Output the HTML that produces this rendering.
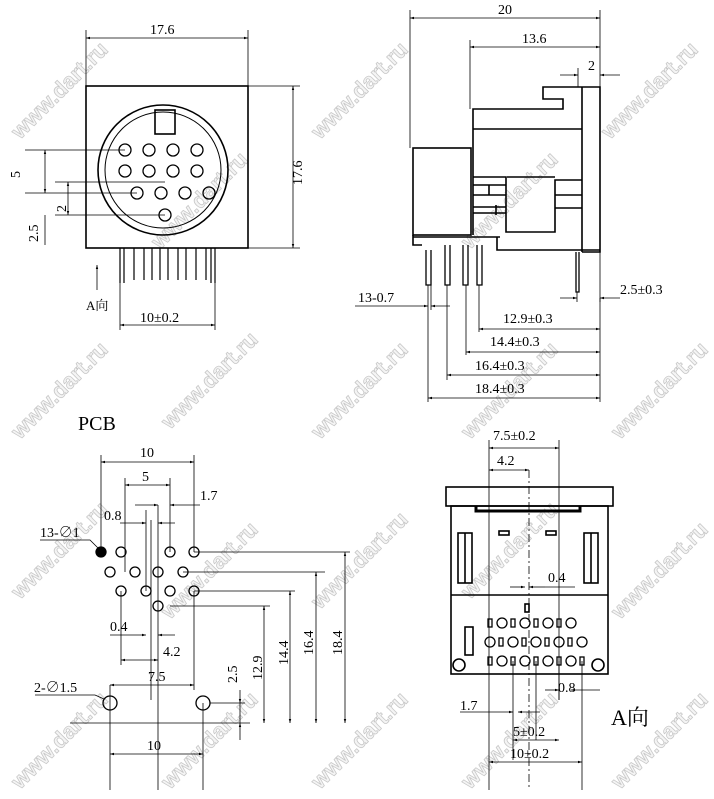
<!DOCTYPE html>
<html><head><meta charset="utf-8"><style>
html,body{margin:0;padding:0;background:#fff;width:714px;height:799px;overflow:hidden}
svg{display:block}
text{font-family:"Liberation Serif","Noto Serif CJK SC",serif;font-size:14px;fill:#000}
.wm{font-family:"Liberation Sans",sans-serif;font-size:22px;font-weight:bold;fill:#f4f4f4;stroke:#c8c8c8;stroke-width:0.8}
</style></head><body>
<svg width="714" height="799" viewBox="0 0 714 799" xmlns="http://www.w3.org/2000/svg">
<defs>
<marker id="a" viewBox="0 0 10 10" refX="10" refY="5" markerWidth="7" markerHeight="5" orient="auto-start-reverse"><path d="M0,2 L10,5 L0,8z" fill="#000"/></marker>
</defs>
<g>
<text class="wm" transform="translate(20,140) rotate(-45)">www.dart.ru</text>
<text class="wm" transform="translate(160,250) rotate(-45)">www.dart.ru</text>
<text class="wm" transform="translate(320,140) rotate(-45)">www.dart.ru</text>
<text class="wm" transform="translate(470,250) rotate(-45)">www.dart.ru</text>
<text class="wm" transform="translate(610,140) rotate(-45)">www.dart.ru</text>
<text class="wm" transform="translate(20,440) rotate(-45)">www.dart.ru</text>
<text class="wm" transform="translate(170,430) rotate(-45)">www.dart.ru</text>
<text class="wm" transform="translate(320,440) rotate(-45)">www.dart.ru</text>
<text class="wm" transform="translate(470,440) rotate(-45)">www.dart.ru</text>
<text class="wm" transform="translate(620,440) rotate(-45)">www.dart.ru</text>
<text class="wm" transform="translate(20,600) rotate(-45)">www.dart.ru</text>
<text class="wm" transform="translate(170,620) rotate(-45)">www.dart.ru</text>
<text class="wm" transform="translate(320,610) rotate(-45)">www.dart.ru</text>
<text class="wm" transform="translate(470,600) rotate(-45)">www.dart.ru</text>
<text class="wm" transform="translate(620,620) rotate(-45)">www.dart.ru</text>
<text class="wm" transform="translate(20,790) rotate(-45)">www.dart.ru</text>
<text class="wm" transform="translate(170,790) rotate(-45)">www.dart.ru</text>
<text class="wm" transform="translate(320,790) rotate(-45)">www.dart.ru</text>
<text class="wm" transform="translate(470,790) rotate(-45)">www.dart.ru</text>
<text class="wm" transform="translate(620,790) rotate(-45)">www.dart.ru</text>
</g>

<g stroke="#000" fill="none" stroke-width="1.6">
<rect x="86" y="86" width="162" height="162"/>
<circle cx="163" cy="170" r="65"/>
<circle cx="163" cy="170" r="58" stroke-width="1"/>
<rect x="155" y="110" width="20" height="24"/>
<g stroke-width="1.3">
<circle cx="125" cy="150" r="6"/><circle cx="149" cy="150" r="6"/><circle cx="173" cy="150" r="6"/><circle cx="197" cy="150" r="6"/>
<circle cx="125" cy="171" r="6"/><circle cx="149" cy="171" r="6"/><circle cx="173" cy="171" r="6"/><circle cx="197" cy="171" r="6"/>
<circle cx="137" cy="193" r="6"/><circle cx="161" cy="193" r="6"/><circle cx="185" cy="193" r="6"/><circle cx="209" cy="193" r="6"/>
<circle cx="165" cy="215" r="6"/>
</g>
<g stroke-width="1.2">
<path d="M120,248v35M124,248v35M134,248v32M144,248v32M152,248v32M160,248v32M168,248v32M178,248v32M186,248v32M196,248v32M206,248v32M211,248v35M215,248v35"/>
</g>
</g>
<g stroke="#000" stroke-width="0.8" fill="none">
<path d="M86,86V30M248,86V30"/>
<line x1="86" y1="38" x2="248" y2="38" marker-start="url(#a)" marker-end="url(#a)"/>
<path d="M248,86H300M248,248H300"/>
<line x1="293" y1="86" x2="293" y2="248" marker-start="url(#a)" marker-end="url(#a)"/>
<path d="M25,150H125M25,193H137M55,182H165M55,215H165"/>
<line x1="45" y1="150" x2="45" y2="193" marker-start="url(#a)" marker-end="url(#a)"/>
<line x1="68" y1="182" x2="68" y2="215" marker-start="url(#a)" marker-end="url(#a)"/>
<line x1="45" y1="215" x2="45" y2="245"/>
<line x1="97" y1="290" x2="97" y2="265" marker-end="url(#a)"/>
<path d="M120,283V330M215,283V330"/>
<line x1="120" y1="325" x2="215" y2="325" marker-start="url(#a)" marker-end="url(#a)"/>
</g>
<text x="150" y="34">17.6</text>
<text x="302" y="185" transform="rotate(-90 302 185)">17.6</text>
<text x="20" y="178" transform="rotate(-90 20 178)">5</text>
<text x="38" y="242" transform="rotate(-90 38 242)">2.5</text>
<text x="66" y="212" transform="rotate(-90 66 212)">2</text>
<text x="86" y="310" style="font-size:13px">A向</text>
<text x="140" y="322">10±0.2</text>

<g stroke="#000" fill="none" stroke-width="1.6">
<rect x="413" y="148" width="58" height="87"/>
<path d="M473,235V109H563V99H543V87H600V252H582M473,129H582M582,87V252"/>
<path d="M473,177H506V232H555V180H582M507,177H555"/>
<path d="M413,235V245H422M413,237H500M497,237V250H600"/>
<path d="M473,185H506M473,195H506M473,207H506M473,213H506M489,185V195M496,205V215M582,195H555M582,208H555"/>
<g stroke-width="1.3"><path d="M426,250V285H431V250M445,245V285H450V245M463,245V285H468V245M477,245V285H482V245M576,252V292H579V252"/></g>
</g>
<g stroke="#000" stroke-width="0.8" fill="none">
<path d="M410,148V10M600,87V10M470,109V40M578,87V68"/>
<line x1="410" y1="18" x2="600" y2="18" marker-start="url(#a)" marker-end="url(#a)"/>
<line x1="470" y1="47" x2="600" y2="47" marker-start="url(#a)" marker-end="url(#a)"/>
<line x1="560" y1="75" x2="578" y2="75" marker-end="url(#a)"/><line x1="620" y1="75" x2="600" y2="75" marker-end="url(#a)"/>
<path d="M600,252V302M577,292V302"/>
<line x1="560" y1="298" x2="577" y2="298" marker-end="url(#a)"/><line x1="620" y1="298" x2="600" y2="298" marker-end="url(#a)"/>
<path d="M428,285V402M431,285V310M447,285V380M466,285V355M479,285V332"/>
<line x1="410" y1="306" x2="428" y2="306" marker-end="url(#a)"/><line x1="450" y1="306" x2="431" y2="306" marker-end="url(#a)"/>
<path d="M355,306H410"/>
<line x1="479" y1="329" x2="600" y2="329" marker-start="url(#a)" marker-end="url(#a)"/>
<line x1="466" y1="352" x2="600" y2="352" marker-start="url(#a)" marker-end="url(#a)"/>
<line x1="447" y1="375" x2="600" y2="375" marker-start="url(#a)" marker-end="url(#a)"/>
<line x1="428" y1="398" x2="600" y2="398" marker-start="url(#a)" marker-end="url(#a)"/>
<path d="M600,298V402"/>
</g>
<text x="498" y="14">20</text>
<text x="522" y="43">13.6</text>
<text x="588" y="70">2</text>
<text x="620" y="294">2.5±0.3</text>
<text x="358" y="302">13-0.7</text>
<text x="503" y="323">12.9±0.3</text>
<text x="490" y="346">14.4±0.3</text>
<text x="475" y="370">16.4±0.3</text>
<text x="475" y="393">18.4±0.3</text>

<text x="78" y="430" style="font-size:20px">PCB</text>
<g stroke="#000" fill="none" stroke-width="1.3">
<circle cx="101" cy="552" r="5" fill="#000"/><circle cx="121" cy="552" r="5"/><circle cx="170" cy="552" r="5"/><circle cx="194" cy="552" r="5"/>
<circle cx="110" cy="572" r="5"/><circle cx="135" cy="572" r="5"/><circle cx="158" cy="572" r="5"/><circle cx="183" cy="572" r="5"/>
<circle cx="121" cy="591" r="5"/><circle cx="146" cy="591" r="5"/><circle cx="170" cy="591" r="5"/><circle cx="194" cy="591" r="5"/>
<circle cx="158" cy="606" r="5"/>
<circle cx="110" cy="703" r="7"/><circle cx="203" cy="703" r="7"/>
</g>
<g stroke="#000" stroke-width="0.8" fill="none">
<path d="M101,552V455M194,552V455M125,572V478M170,552V478M146,591V510M158,606V505M151,520V700M158,520V790"/>
<line x1="101" y1="462" x2="194" y2="462" marker-start="url(#a)" marker-end="url(#a)"/>
<line x1="125" y1="485" x2="170" y2="485" marker-start="url(#a)" marker-end="url(#a)"/>
<line x1="135" y1="505" x2="158" y2="505" marker-end="url(#a)"/><line x1="200" y1="505" x2="170" y2="505" marker-end="url(#a)"/>
<line x1="120" y1="523" x2="146" y2="523" marker-end="url(#a)"/><line x1="175" y1="523" x2="158" y2="523" marker-end="url(#a)"/>
<path d="M40,540H90L98,548"/>
<line x1="110" y1="635" x2="146" y2="635" marker-end="url(#a)"/><line x1="175" y1="635" x2="158" y2="635" marker-end="url(#a)"/>
<line x1="121" y1="660" x2="158" y2="660" marker-start="url(#a)" marker-end="url(#a)"/><path d="M121,591V665"/>
<line x1="110" y1="685" x2="194" y2="685" marker-start="url(#a)" marker-end="url(#a)"/><path d="M110,685V790M194,591V690M203,703V790"/>
<path d="M35,695H95L104,699"/>
<path d="M70,723H250"/>
<line x1="110" y1="754" x2="203" y2="754" marker-start="url(#a)" marker-end="url(#a)"/>
<path d="M194,552H350M183,572H325M194,591H295M170,606H270"/>
<line x1="264" y1="606" x2="264" y2="723" marker-start="url(#a)" marker-end="url(#a)"/>
<line x1="290" y1="591" x2="290" y2="723" marker-start="url(#a)" marker-end="url(#a)"/>
<line x1="316" y1="572" x2="316" y2="723" marker-start="url(#a)" marker-end="url(#a)"/>
<line x1="345" y1="552" x2="345" y2="723" marker-start="url(#a)" marker-end="url(#a)"/>
<line x1="240" y1="703" x2="240" y2="723" /><line x1="240" y1="690" x2="240" y2="703" marker-end="url(#a)"/><line x1="240" y1="740" x2="240" y2="723" marker-end="url(#a)"/>
<path d="M210,703H245"/>
</g>
<text x="140" y="457">10</text>
<text x="142" y="481">5</text>
<text x="200" y="500">1.7</text>
<text x="104" y="520">0.8</text>
<text x="40" y="537">13-∅1</text>
<text x="110" y="631">0.4</text>
<text x="163" y="656">4.2</text>
<text x="148" y="681">7.5</text>
<text x="34" y="692">2-∅1.5</text>
<text x="147" y="750">10</text>
<text x="237" y="683" transform="rotate(-90 237 683)">2.5</text>
<text x="262" y="680" transform="rotate(-90 262 680)">12.9</text>
<text x="288" y="665" transform="rotate(-90 288 665)">14.4</text>
<text x="313" y="655" transform="rotate(-90 313 655)">16.4</text>
<text x="342" y="655" transform="rotate(-90 342 655)">18.4</text>

<g stroke="#000" fill="none" stroke-width="1.6">
<rect x="446" y="487" width="167" height="19"/>
<rect x="451" y="506" width="157" height="168"/>
<path d="M451,595H608"/>
<path d="M476,506V511H580V506" stroke-width="3"/>
<rect x="458" y="533" width="14" height="50"/><path d="M465,533V583"/>
<rect x="584" y="533" width="14" height="50"/><path d="M591,533V583"/>
<rect x="499" y="531" width="10" height="4"/><rect x="546" y="531" width="10" height="4"/>
<rect x="465" y="627" width="8" height="28"/>
<circle cx="459" cy="665" r="6"/><circle cx="598" cy="665" r="6"/>
<rect x="525" y="604" width="4" height="8"/>
</g>
<g stroke="#000" fill="none" stroke-width="1.3">
<rect x="488" y="619" width="4" height="8"/><circle cx="502" cy="623" r="5"/><rect x="511" y="619" width="4" height="8"/><circle cx="525" cy="623" r="5"/><rect x="534" y="619" width="4" height="8"/><circle cx="548" cy="623" r="5"/><rect x="557" y="619" width="4" height="8"/><circle cx="571" cy="623" r="5"/>
<circle cx="490" cy="642" r="5"/><rect x="499" y="638" width="4" height="8"/><circle cx="513" cy="642" r="5"/><rect x="522" y="638" width="4" height="8"/><circle cx="536" cy="642" r="5"/><rect x="545" y="638" width="4" height="8"/><circle cx="559" cy="642" r="5"/><rect x="568" y="638" width="4" height="8"/><circle cx="582" cy="642" r="5"/>
<rect x="488" y="657" width="4" height="8"/><circle cx="502" cy="661" r="5"/><rect x="511" y="657" width="4" height="8"/><circle cx="525" cy="661" r="5"/><rect x="534" y="657" width="4" height="8"/><circle cx="548" cy="661" r="5"/><rect x="557" y="657" width="4" height="8"/><circle cx="571" cy="661" r="5"/><rect x="580" y="657" width="4" height="8"/>
</g>
<g stroke="#000" stroke-width="0.8" fill="none">
<path d="M489,440V790M559,440V700"/>
<path d="M529,470V790" stroke-dasharray="8,3,2,3"/>
<line x1="489" y1="448" x2="559" y2="448" marker-start="url(#a)" marker-end="url(#a)"/>
<line x1="489" y1="470" x2="529" y2="470" marker-start="url(#a)" marker-end="url(#a)"/>
<line x1="510" y1="587" x2="525" y2="587" marker-end="url(#a)"/><line x1="545" y1="587" x2="529" y2="587" marker-end="url(#a)"/><path d="M545,587H575"/>
<path d="M513,661V760M536,661V740M559,661V700M582,661V790"/>
<line x1="490" y1="712" x2="513" y2="712" marker-end="url(#a)"/><line x1="540" y1="712" x2="518" y2="712" marker-end="url(#a)"/><path d="M460,712H490"/>
<line x1="545" y1="690" x2="559" y2="690" marker-end="url(#a)"/><line x1="600" y1="690" x2="571" y2="690" marker-end="url(#a)"/>
<line x1="513" y1="740" x2="559" y2="740" marker-start="url(#a)" marker-end="url(#a)"/>
<line x1="489" y1="762" x2="582" y2="762" marker-start="url(#a)" marker-end="url(#a)"/>
</g>
<text x="493" y="440">7.5±0.2</text>
<text x="497" y="465">4.2</text>
<text x="548" y="582">0.4</text>
<text x="558" y="692">0.8</text>
<text x="460" y="710">1.7</text>
<text x="513" y="736">5±0.2</text>
<text x="510" y="758">10±0.2</text>
<text x="611" y="725" style="font-size:22px">A向</text>
</svg>
</body></html>
